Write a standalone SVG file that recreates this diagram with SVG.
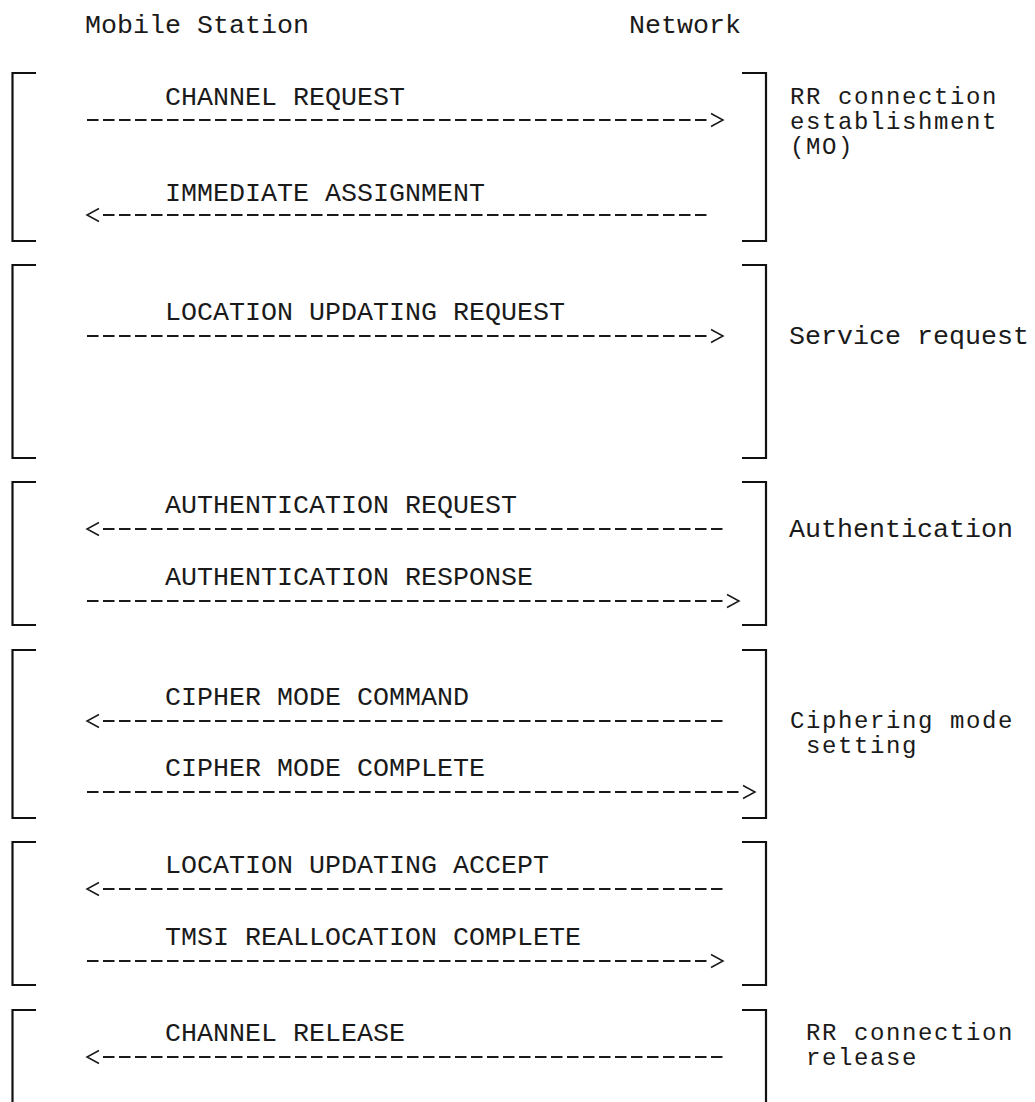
<svg xmlns="http://www.w3.org/2000/svg" width="1035" height="1102" viewBox="0 0 1035 1102">
<style>
text{font-family:"Liberation Mono","Courier New",monospace;font-size:26.67px;fill:#1a1a1a;white-space:pre}
text.side{font-size:24px;letter-spacing:1.6px}
.br{fill:none;stroke:#111;stroke-width:2.2}
.dash{fill:none;stroke:#1a1a1a;stroke-width:1.9;stroke-dasharray:11.5 4.5}
.head{fill:none;stroke:#1a1a1a;stroke-width:1.5}
</style>
<rect width="1035" height="1102" fill="#fff"/>
<g id="header">
<text x="85" y="33">Mobile Station</text>
<text x="629" y="33">Network</text>
</g>
<g id="rr-establishment">
<path class="br" d="M36,73 H12.5 V241 H36"/>
<path class="br" d="M742,73 H766 V241 H742"/>
<text x="165" y="105">CHANNEL REQUEST</text>
<text x="165" y="201">IMMEDIATE ASSIGNMENT</text>
<text class="side" x="790" y="104">RR connection</text>
<text class="side" x="790" y="129">establishment</text>
<text class="side" x="790" y="154">(MO)</text>
</g>
<g id="service-request">
<path class="br" d="M36,265 H12.5 V458 H36"/>
<path class="br" d="M742,265 H766 V458 H742"/>
<text x="165" y="320">LOCATION UPDATING REQUEST</text>
<text x="789" y="344">Service request</text>
</g>
<g id="authentication">
<path class="br" d="M36,482 H12.5 V625 H36"/>
<path class="br" d="M742,482 H766 V625 H742"/>
<text x="165" y="513">AUTHENTICATION REQUEST</text>
<text x="165" y="585">AUTHENTICATION RESPONSE</text>
<text x="789" y="537">Authentication</text>
</g>
<g id="ciphering">
<path class="br" d="M36,650 H12.5 V818 H36"/>
<path class="br" d="M742,650 H766 V818 H742"/>
<text x="165" y="705">CIPHER MODE COMMAND</text>
<text x="165" y="776">CIPHER MODE COMPLETE</text>
<text class="side" x="790" y="728">Ciphering mode</text>
<text class="side" x="806" y="753">setting</text>
</g>
<g id="location-accept">
<path class="br" d="M36,842 H12.5 V985 H36"/>
<path class="br" d="M742,842 H766 V985 H742"/>
<text x="165" y="873">LOCATION UPDATING ACCEPT</text>
<text x="165" y="945">TMSI REALLOCATION COMPLETE</text>
</g>
<g id="rr-release">
<path class="br" d="M36,1010 H12.5 V1110"/>
<path class="br" d="M742,1010 H766 V1110"/>
<text x="165" y="1041">CHANNEL RELEASE</text>
<text class="side" x="806" y="1040">RR connection</text>
<text class="side" x="806" y="1065">release</text>
</g>
<g id="connectors">
<!-- CHANNEL REQUEST -->
<line class="dash" x1="87" y1="120" x2="706.5" y2="120"/>
<polyline class="head" points="711,113.5 723,120 711,126.5"/>
<!-- IMMEDIATE ASSIGNMENT -->
<polyline class="head" points="99,208.5 87,215 99,221.5"/>
<line class="dash" x1="103" y1="215" x2="706.5" y2="215"/>
<!-- LOCATION UPDATING REQUEST -->
<line class="dash" x1="87" y1="336" x2="706.5" y2="336"/>
<polyline class="head" points="711,329.5 723,336 711,342.5"/>
<!-- AUTHENTICATION REQUEST -->
<polyline class="head" points="99,522.5 87,529 99,535.5"/>
<line class="dash" x1="103" y1="529" x2="722.5" y2="529"/>
<!-- AUTHENTICATION RESPONSE -->
<line class="dash" x1="87" y1="601" x2="722.5" y2="601"/>
<polyline class="head" points="727,594.5 739,601 727,607.5"/>
<!-- CIPHER MODE COMMAND -->
<polyline class="head" points="99,714.5 87,721 99,727.5"/>
<line class="dash" x1="103" y1="721" x2="722.5" y2="721"/>
<!-- CIPHER MODE COMPLETE -->
<line class="dash" x1="87" y1="792" x2="738.5" y2="792"/>
<polyline class="head" points="743,785.5 755,792 743,798.5"/>
<!-- LOCATION UPDATING ACCEPT -->
<polyline class="head" points="99,882.5 87,889 99,895.5"/>
<line class="dash" x1="103" y1="889" x2="722.5" y2="889"/>
<!-- TMSI REALLOCATION COMPLETE -->
<line class="dash" x1="87" y1="961" x2="706.5" y2="961"/>
<polyline class="head" points="711,954.5 723,961 711,967.5"/>
<!-- CHANNEL RELEASE -->
<polyline class="head" points="99,1050.5 87,1057 99,1063.5"/>
<line class="dash" x1="103" y1="1057" x2="722.5" y2="1057"/>
</g>
</svg>
